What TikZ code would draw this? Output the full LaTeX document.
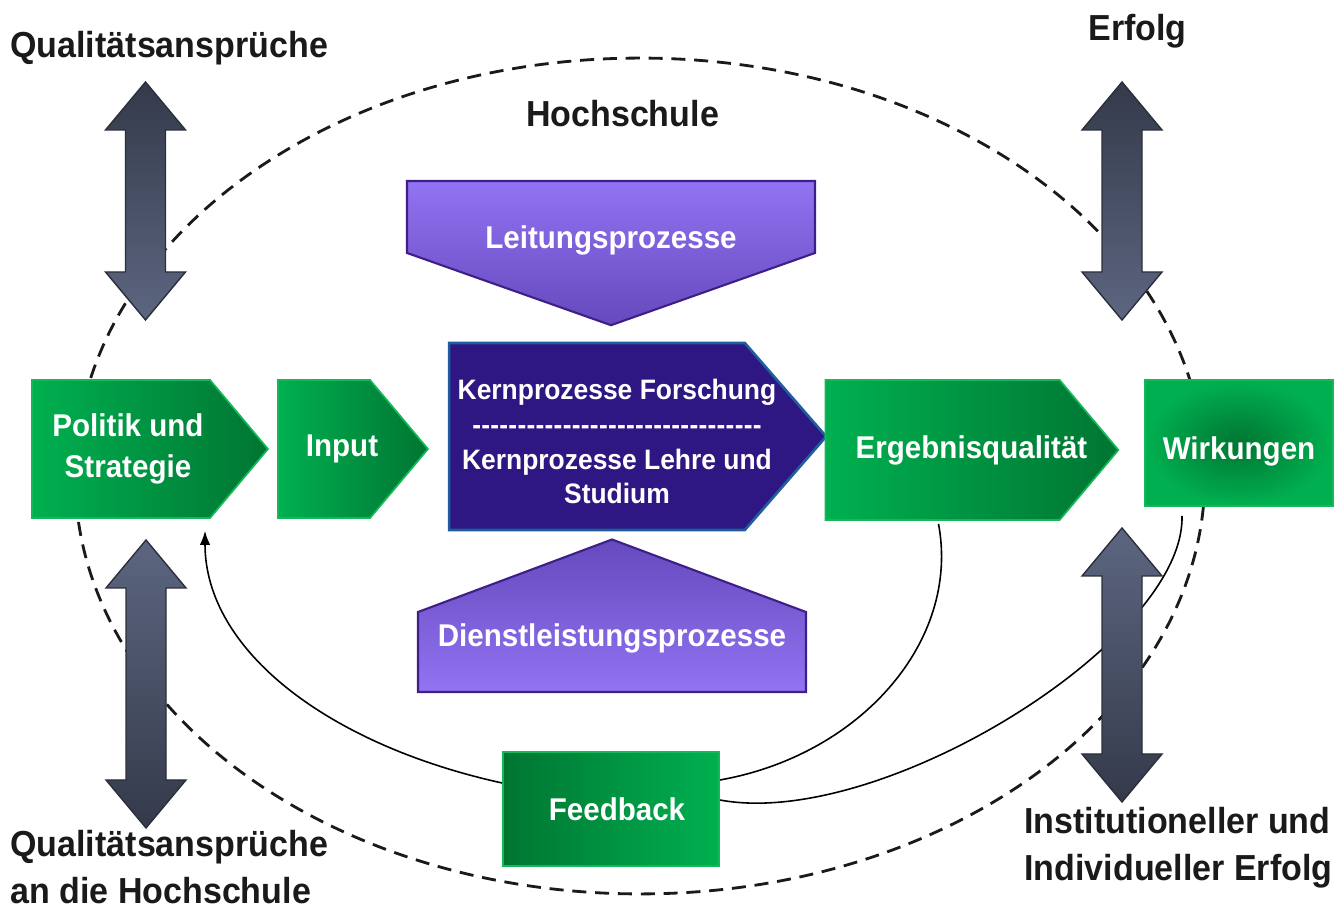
\documentclass[tikz,border=0pt]{standalone}
\usepackage{fontspec}
\setmainfont{Liberation Sans}[FakeStretch=0.94]
\usepackage{tikz}
\usetikzlibrary{shapes.symbols, shapes.geometric, arrows.meta, positioning, calc, backgrounds}
\definecolor{grnL}{HTML}{00B050}
\definecolor{grnD}{HTML}{007532}
\definecolor{grnEdge}{HTML}{14B85A}
\definecolor{kernFill}{HTML}{2E1782}
\definecolor{kernEdge}{HTML}{1F5D9E}
\definecolor{lilaL}{HTML}{9273F2}
\definecolor{lilaD}{HTML}{6549BD}
\definecolor{lilaEdge}{HTML}{3E1F87}
\definecolor{slateL}{HTML}{5C6680}
\definecolor{slateD}{HTML}{343A4A}
\definecolor{slateEdge}{HTML}{2B2F3B}
\definecolor{ink}{HTML}{1A1A1A}

% x, y oben, y unten, Schattierung
\newcommand{\doppelpfeil}[4]{%
  \path[pfeil, #4] (#1,#2) -- (#1+40,#2+48) -- (#1+20,#2+48) -- (#1+20,#3-48)
    -- (#1+40,#3-48) -- (#1,#3) -- (#1-40,#3-48) -- (#1-20,#3-48)
    -- (#1-20,#2+48) -- (#1-40,#2+48) -- cycle;}
\newcommand{\trennlinie}{\hbox to 5.8cm{\xleaders\hbox{-}\hfill}}
% Text ohne Breite, nach rechts versetzt
\newcommand{\rechts}[2]{\makebox[0pt]{\hspace*{#1}#2}}
% Text ohne Ausdehnung, Grundlinie verschoben
\newcommand{\hoch}[2]{\smash{\makebox[0pt]{\raisebox{#1}{#2}}}}

\begin{document}
\begin{tikzpicture}[x=0.02cm, y=-0.02cm,
    gruen/.style={signal, signal to=east, signal pointer angle=100, draw=grnEdge,
                  line width=1pt, left color=grnL, right color=grnD, text=white,
                  font=\bfseries\fontsize{17.9}{23.3}\selectfont, align=center,
                  inner sep=0pt, minimum height=2.76cm},
    kasten/.style={rectangle, draw=grnEdge, line width=1pt, text=white,
                   font=\bfseries\fontsize{17.9}{23.3}\selectfont, inner sep=0pt},
    lila/.style={signal, draw=lilaEdge, line width=1.2pt, text=white,
                 font=\bfseries\fontsize{17.9}{23.3}\selectfont, inner sep=0pt},
    kern/.style={signal, signal to=east, signal pointer angle=98, fill=kernFill,
                 draw=kernEdge, line width=1.5pt, text=white,
                 font=\bfseries\fontsize{16}{19.9}\selectfont, inner sep=0pt},
    titel/.style={inner sep=0pt, text=ink, font=\bfseries\fontsize{20.6}{26.5}\selectfont},
    pfeil/.style={draw=slateEdge, line width=0.8pt},
    verbinder/.style={line width=0.9pt, black}
]
\useasboundingbox (0,0) rectangle (1336,911);

% Pfeile links und rechts
\doppelpfeil{145.5}{82}{320}{top color=slateD, bottom color=slateL}
\doppelpfeil{146}{540}{828}{top color=slateL, bottom color=slateD}
\doppelpfeil{1122}{82}{320}{top color=slateD, bottom color=slateL}
\doppelpfeil{1122}{528}{802}{top color=slateL, bottom color=slateD}

% Prozesskette
\node[gruen, minimum width=4.72cm] (pol) at (121,449)
    {\rechts{0.28cm}{\begin{tabular}{@{}c@{}}Politik und\\Strategie\end{tabular}}};
\node[gruen, minimum width=3cm] (inp) at (324,449) {\rechts{0.72cm}{Input}};
\node[kern, minimum width=7.54cm, minimum height=3.74cm] (kp) at (597,436.5)
    {\rechts{0.8cm}{\smash{\raisebox{-1.35cm}{\begin{tabular}[b]{@{}c@{}}Kernprozesse Forschung\\
     \trennlinie\\Kernprozesse Lehre und\\Studium\end{tabular}}}}};
\node[gruen, minimum width=5.86cm, minimum height=2.8cm] (erg) at (942.5,450)
    {\rechts{1.16cm}{Ergebnisqualität}};
\node[kasten, inner color=grnD, outer color=grnL, minimum width=3.76cm,
      minimum height=2.52cm] (wirk) at (1239,443) {\hoch{-0.34cm}{Wirkungen}};
\node[lila, signal to=south, signal pointer angle=141, top color=lilaL, bottom color=lilaD,
      minimum width=8.16cm, minimum height=1.44cm] (leit) at (611,217)
    {\hoch{-0.64cm}{Leitungsprozesse}};
\node[lila, signal to=north, signal pointer angle=139, top color=lilaD, bottom color=lilaL,
      minimum width=7.76cm, minimum height=1.6cm] (dienst) at (612,652)
    {\hoch{0.1cm}{Dienstleistungsprozesse}};
\node[kasten, left color=grnD, right color=grnL, minimum width=4.32cm,
      minimum height=2.28cm] (fb) at (611,809) {\rechts{0.24cm}{Feedback}};

% Beschriftungen
\node[titel, anchor=base west] (qa) at (10,58) {Qualitätsansprüche};
\node[titel, anchor=base] (erfolg) at (1137.5,41) {Erfolg};
\node[titel, anchor=base] (hsname) at (622.5,127) {Hochschule};
\node[titel, anchor=west, align=left] (qahs) at (10,867) {Qualitätsansprüche\\an die Hochschule};
\node[titel, anchor=west, align=left] (ie) at (1024,848) {Institutioneller und\\Individueller Erfolg};

\begin{scope}[on background layer]
\node[ellipse, draw=ink, line width=1.6pt, dash pattern=on 8pt off 5pt,
      minimum width=22.6cm, minimum height=16.72cm, inner sep=0pt] (hs) at (640,476) {};
\draw[verbinder] ($(erg.south)+(-4,3)$) .. controls +(22,117) and +(141,-25) .. ($(fb.east)+(0,-29)$);
\draw[verbinder] ($(wirk.south)+(-57,9)$) .. controls +(3,125) and +(161,30) .. ($(fb.east)+(0,-9)$);
\draw[verbinder, -{Latex[length=8pt,width=6pt]}] ($(fb.west)+(0,-26)$) .. controls +(-173,-38) and +(0,120) .. ($(pol.south)+(84,12)$);
\end{scope}
\end{tikzpicture}
\end{document}
